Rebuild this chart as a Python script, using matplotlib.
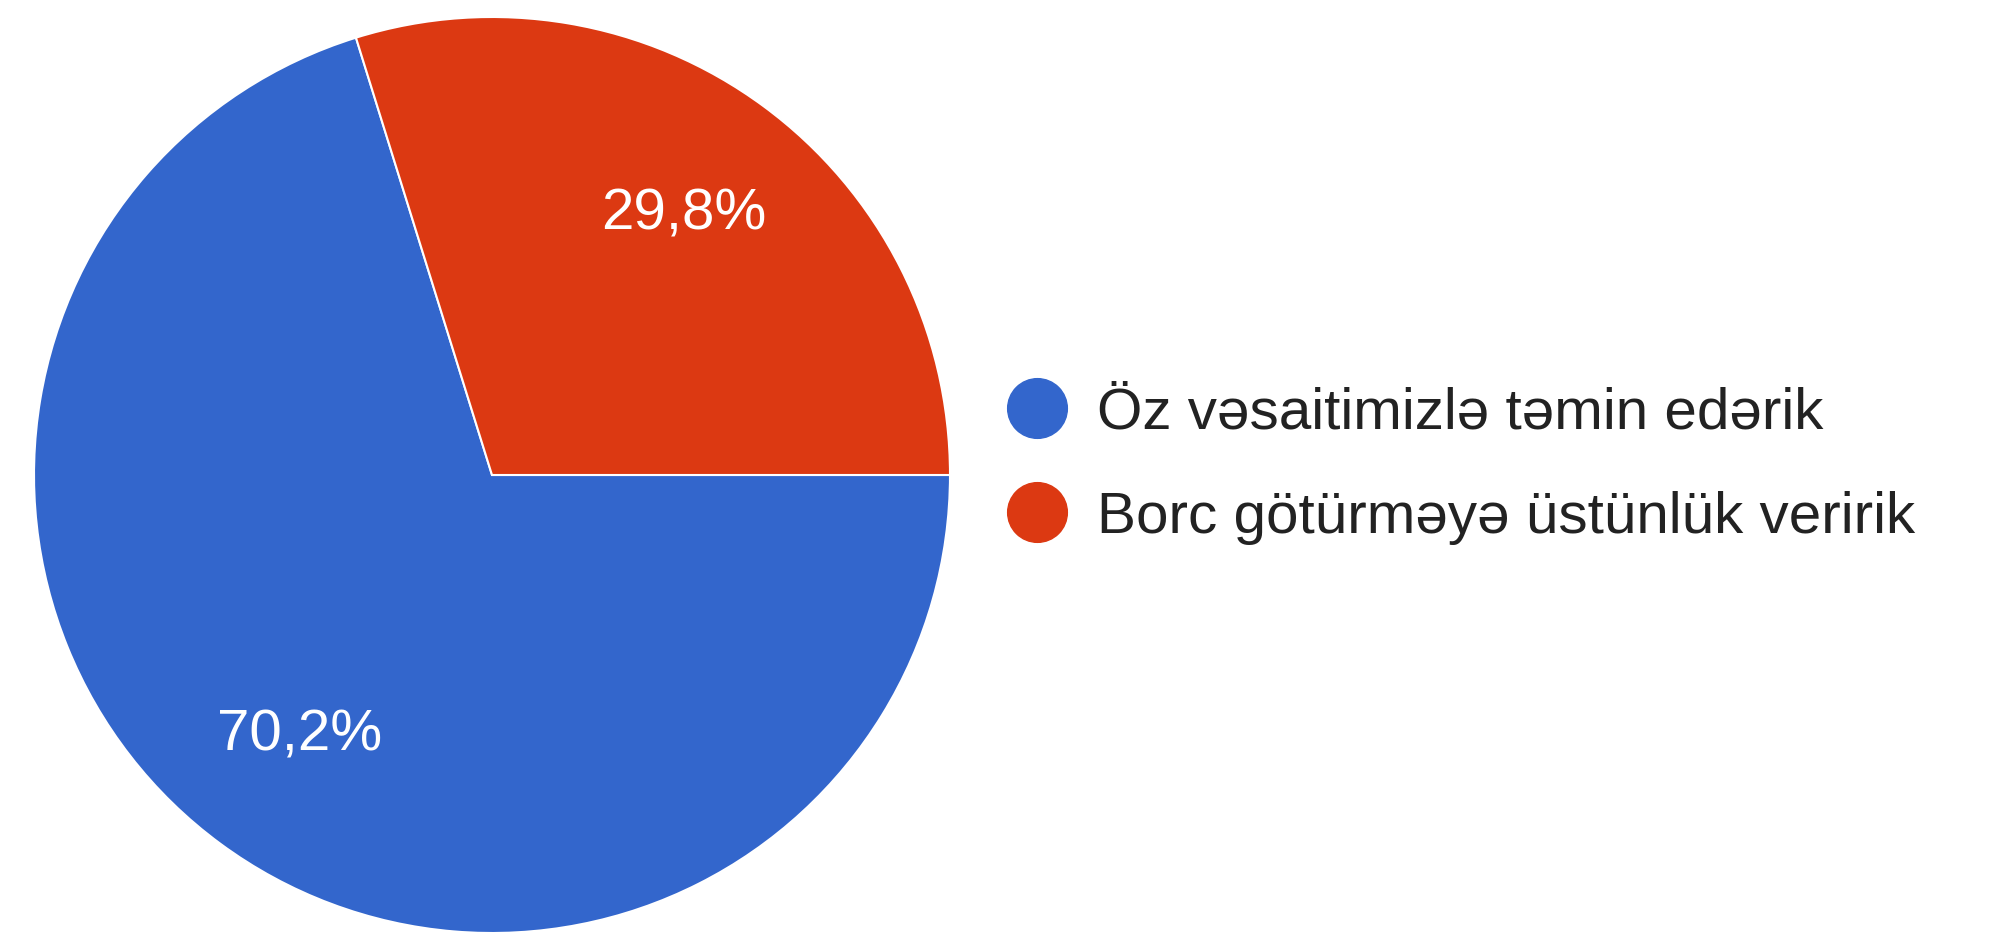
import matplotlib.pyplot as plt
from matplotlib.lines import Line2D

labels = ["Öz vəsaitimizlə təmin edərik", "Borc götürməyə üstünlük veririk"]
values = [70.2, 29.8]
colors = ["#3366CC", "#DC3912"]

plt.rcParams['font.family'] = ['Liberation Sans', 'DejaVu Sans']

fig = plt.figure(figsize=(19.94, 9.33), dpi=100)

# pie axes: center ~ (492, 475) px, radius ~458 px
r_px = 458
cx, cy = 492, 933 - 475
ax = fig.add_axes([(cx - r_px) / 1994, (cy - r_px) / 933, 2 * r_px / 1994, 2 * r_px / 933])

# red slice sits between 3 o'clock and its upper-left edge
wedges, texts, autotexts = ax.pie(
    values, colors=colors, startangle=3.6 * values[1], counterclock=True,
    autopct=lambda p: f"{p:.1f}%".replace(".", ","), pctdistance=0.707,
    wedgeprops=dict(edgecolor="white", linewidth=1.5),
    textprops=dict(color="white", fontsize=42),
)
ax.set_xlim(-1, 1)
ax.set_ylim(-1, 1)
ax.set_aspect("equal")
ax.axis("off")

handles = [Line2D([], [], marker="o", linestyle="", markersize=43,
                  markerfacecolor=c, markeredgecolor=c) for c in colors]
fig.legend(handles, labels, loc="center left", bbox_to_anchor=(1008 / 1994, 0.501),
           frameon=False, fontsize=42, handlelength=1.0, handletextpad=0.53,
           labelspacing=0.86, borderpad=0, borderaxespad=0, numpoints=1,
           labelcolor="#222222")

fig.savefig("out.png", dpi=100)
